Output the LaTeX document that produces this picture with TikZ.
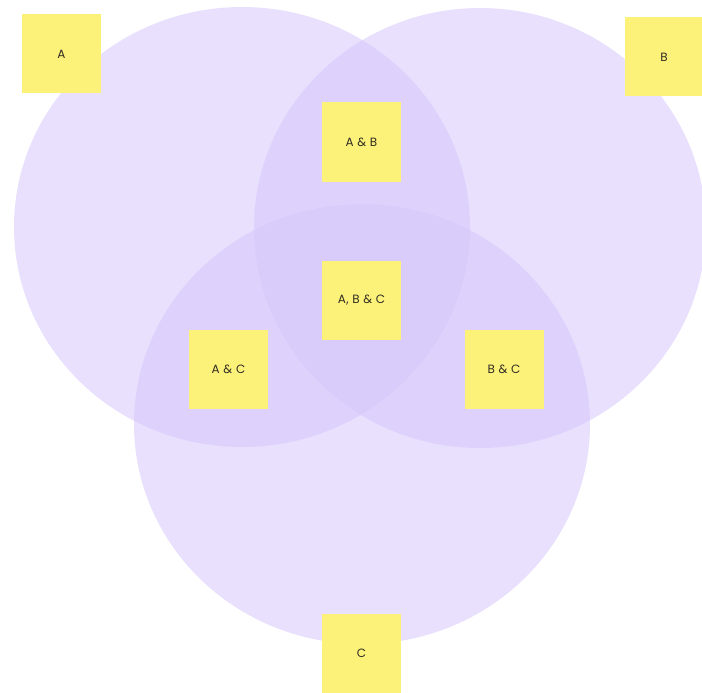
\documentclass[tikz,border=0pt]{standalone}
\usepackage{fontspec}
\setmainfont{Poppins}[LetterSpace=4]
\begin{document}
\definecolor{setfill}{RGB}{213,199,251}
\definecolor{notefill}{RGB}{252,242,122}
\definecolor{notetext}{RGB}{50,45,35}
\begin{tikzpicture}[x=1pt,y=-1pt,
  setcircle/.style={fill=setfill,fill opacity=0.55,draw=none},
  note/.style={fill=notefill,draw=none,minimum width=79pt,minimum height=79pt,
    inner sep=0pt,text=notetext,font=\fontsize{12}{14}\selectfont}]
\useasboundingbox (0,0) rectangle (702,693);
% the three sets
\fill[setcircle] (242,227) ellipse [x radius=228, y radius=220];
\fill[setcircle] (480,228) ellipse [x radius=226, y radius=220];
\fill[setcircle] (362,424) ellipse [x radius=228, y radius=220];
% sticky-note labels
\node[note] (a)   at (61.5,54)   {A};
\node[note] (b)   at (664,57)    {B};
\node[note] (ab)  at (361.5,142) {A \& B};
\node[note] (abc) at (361.5,300) {A, B \& C};
\node[note] (ac)  at (228.5,369.5) {A \& C};
\node[note] (bc)  at (504,369.5) {B \& C};
\node[note] (c)   at (361.5,653.5) {C};
\end{tikzpicture}
\end{document}
